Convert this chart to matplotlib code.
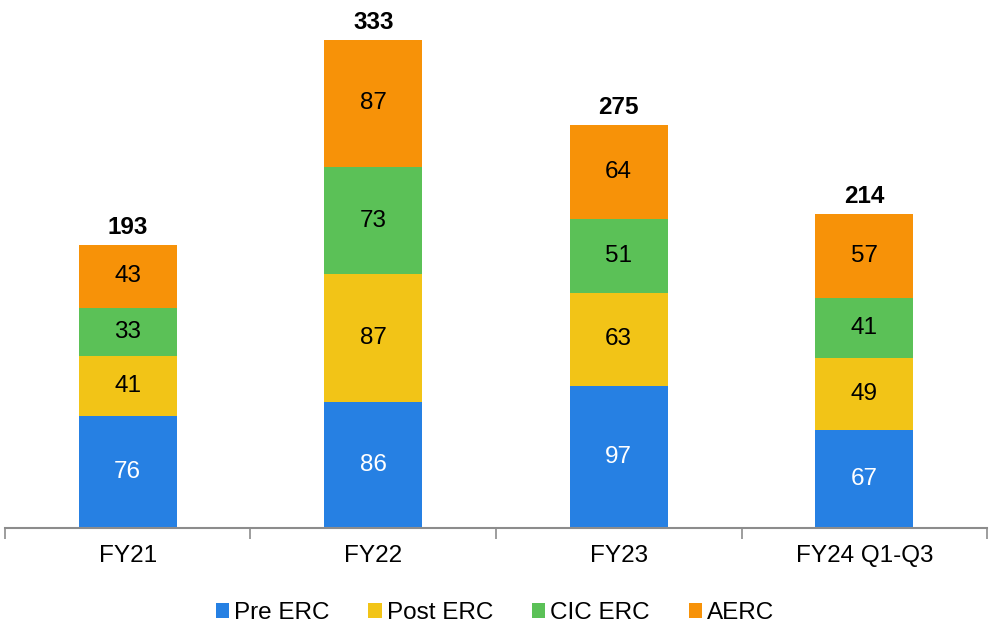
import matplotlib.pyplot as plt
import numpy as np

plt.rcParams['font.family'] = ['Liberation Sans', 'DejaVu Sans']

categories = ['FY21', 'FY22', 'FY23', 'FY24 Q1-Q3']
pre_erc = [76, 86, 97, 67]
post_erc = [41, 87, 63, 49]
cic_erc = [33, 73, 51, 41]
aerc = [43, 87, 64, 57]
totals = [193, 333, 275, 214]

series = [('Pre ERC', pre_erc, '#2680E3', 'white'),
          ('Post ERC', post_erc, '#F2C417', 'black'),
          ('CIC ERC', cic_erc, '#5BC157', 'black'),
          ('AERC', aerc, '#F79208', 'black')]

fig = plt.figure(figsize=(9.9, 6.33), dpi=100)
ax = fig.add_axes([0.005, 0.166, 0.992, 0.834])

x = np.arange(len(categories))
bottom = np.zeros(len(categories))
for name, vals, col, tcol in series:
    ax.bar(x, vals, 0.4, bottom=bottom, color=col, label=name)
    for xi, b, v in zip(x, bottom, vals):
        ax.text(xi, b + v / 2, str(v), ha='center', va='center', fontsize=17.5, color=tcol)
    bottom += np.array(vals)

for xi, t in zip(x, totals):
    ax.text(xi, t + 4, str(t), ha='center', va='bottom', fontsize=17.5, fontweight='bold')

ax.set_xlim(-0.5, len(categories) - 0.5)
ax.set_ylim(0, 360)
for s in ['top', 'right', 'left']:
    ax.spines[s].set_visible(False)
ax.spines['bottom'].set_color('#8c8c8c')
ax.spines['bottom'].set_linewidth(1.5)
ax.set_yticks([])
ax.set_xticks(np.arange(-0.5, len(categories), 1.0))
ax.set_xticklabels([])
ax.set_xticks(x, minor=True)
ax.set_xticklabels(categories, minor=True, fontsize=17.5)
ax.tick_params(axis='x', which='major', length=8, width=1.2, color='#8c8c8c', direction='out')
ax.tick_params(axis='x', which='minor', length=0, pad=12)

fig.legend(loc='center', bbox_to_anchor=(0.5, 0.031), ncol=4, frameon=False, fontsize=17.5,
           handlelength=0.55, handleheight=0.55, handletextpad=0.2, columnspacing=1.6)

fig.savefig('out.png', dpi=100)
